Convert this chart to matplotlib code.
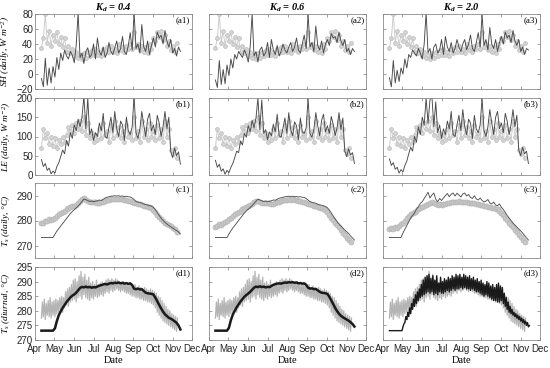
import numpy as np
import pandas as pd
import matplotlib
matplotlib.use('Agg')
import matplotlib.pyplot as plt
import matplotlib.dates as mdates

plt.rcParams['font.family'] = ['Liberation Sans', 'DejaVu Sans']
plt.rcParams['mathtext.fontset'] = 'custom'
plt.rcParams['mathtext.rm'] = 'Liberation Serif:italic'
plt.rcParams['mathtext.it'] = 'Liberation Serif:italic'
plt.rcParams['mathtext.bf'] = 'Liberation Serif:italic:bold'

# ---------------- data ----------------
model_dates = pd.date_range('2015-04-11', periods=73, freq='3D')
obs_dates = pd.date_range('2015-04-11', periods=71, freq='3D')

titles = ['0.4', '0.6', '2.0']

sh_obs = [35, 48, 80, 42, 58, 38, 52, 44, 56, 40,
          50, 36, 48, 30, 38, 28, 34, 24, 30, 22,
          26, 20, 28, 22, 30, 24, 32, 25, 34, 26,
          30, 24, 34, 28, 36, 30, 38, 30, 34, 28,
          40, 32, 36, 30, 38, 33, 40, 34, 56, 36,
          40, 32, 38, 30, 36, 28, 40, 34, 48, 44,
          56, 50, 58, 46, 52, 38, 44, 32, 38, 30,
          42]
sh_mod_04 = [-6, -17, 21, -15, 8, -12, 10, -4, 22, 6,
             28, 18, 32, 24, 20, 30, 25, 15, 38, 82,
             22, 28, 14, 30, 35, 22, 26, 40, 20, 48,
             30, 25, 36, 22, 28, 42, 30, 26, 35, 44,
             28, 34, 50, 30, 26, 38, 55, 32, 82, 34,
             40, 28, 66, 36, 30, 44, 26, 38, 48, 36,
             56, 48, 52, 40, 58, 44, 36, 46, 28, 34,
             24, 36, 30]
sh_mod_06 = [-8, -18, 18, -14, 6, -13, 12, -2, 20, 8,
             26, 20, 30, 26, 22, 32, 26, 16, 36, 80,
             24, 30, 16, 32, 36, 24, 28, 42, 22, 46,
             32, 26, 38, 24, 30, 40, 32, 28, 36, 42,
             30, 36, 48, 32, 28, 40, 52, 34, 80, 36,
             42, 30, 64, 38, 32, 44, 28, 40, 46, 38,
             54, 48, 50, 42, 56, 44, 38, 46, 30, 34,
             26, 34, 30]
sh_mod_20 = [-5, -17, 18, -12, 5, -10, 8, 0, 20, 8,
             26, 22, 32, 28, 24, 34, 28, 20, 40, 82,
             28, 34, 20, 36, 40, 28, 32, 46, 26, 50,
             36, 30, 42, 28, 34, 46, 36, 30, 40, 46,
             32, 40, 52, 34, 30, 42, 55, 36, 80, 38,
             46, 32, 62, 40, 34, 46, 30, 42, 50, 40,
             56, 48, 52, 42, 58, 44, 38, 46, 30, 36,
             26, 34, 32]

le_obs = [70, 120, 95, 110, 80, 100, 75, 95, 70, 90,
          80, 100, 85, 105, 125, 115, 130, 110, 135, 120,
          140, 115, 150, 105, 135, 95, 110, 85, 105, 90,
          120, 95, 135, 105, 115, 85, 130, 95, 140, 105,
          125, 95, 115, 85, 130, 100, 110, 90, 150, 95,
          115, 85, 140, 100, 120, 90, 135, 100, 115, 90,
          130, 95, 120, 85, 140, 100, 120, 65, 55, 70,
          45]
le_mod_04 = [40, 22, 30, 12, 18, 3, 10, 5, 22, 32,
             48, 65, 55, 90, 75, 110, 95, 130, 115, 145,
             125, 150, 205, 120, 200, 105, 120, 90, 110, 100,
             135, 115, 160, 100, 95, 125, 150, 110, 165, 120,
             100, 140, 130, 90, 150, 115, 105, 125, 205, 110,
             95, 120, 165, 130, 100, 145, 160, 115, 130, 105,
             155, 135, 100, 125, 165, 120, 150, 60, 45, 70,
             50, 60, 28]
le_mod_06 = [38, 20, 28, 10, 16, 2, 12, 6, 20, 30,
             45, 62, 58, 88, 78, 108, 98, 128, 112, 142,
             122, 148, 200, 118, 195, 108, 118, 92, 112, 102,
             132, 112, 158, 102, 98, 122, 148, 108, 162, 118,
             102, 138, 128, 92, 148, 112, 108, 122, 200, 108,
             98, 118, 162, 128, 102, 142, 158, 112, 128, 108,
             152, 132, 102, 122, 162, 118, 148, 62, 48, 68,
             52, 58, 30]
le_mod_20 = [42, 25, 32, 15, 20, 5, 14, 8, 25, 36,
             55, 72, 62, 100, 85, 125, 105, 150, 130, 200,
             135, 195, 205, 125, 190, 110, 130, 95, 120, 105,
             140, 120, 165, 105, 100, 130, 155, 115, 170, 125,
             105, 145, 135, 95, 155, 120, 110, 130, 200, 115,
             100, 125, 170, 135, 105, 150, 165, 120, 135, 110,
             160, 140, 105, 130, 170, 125, 155, 65, 50, 72,
             55, 62, 30]

ts_obs_04 = [279.0, 279.2, 279.8, 280.0, 280.6, 280.3, 280.8, 281.0, 281.8, 282.5,
             283.0, 283.3, 284.0, 284.5, 285.0, 285.3, 285.8, 286.0, 286.4, 287.0,
             287.8, 288.7, 289.2, 288.4, 287.8, 287.4, 287.6, 287.3, 287.5, 287.2,
             287.0, 287.3, 287.6, 287.9, 288.2, 288.4, 288.6, 288.7, 288.8, 288.6,
             288.8, 288.7, 288.5, 288.4, 288.3, 288.0, 287.8, 287.5, 287.2, 287.0,
             286.8, 286.6, 286.3, 286.0, 285.8, 285.6, 285.4, 285.0, 284.3, 283.3,
             282.4, 281.5, 280.6, 279.8, 279.2, 278.8, 278.2, 277.7, 277.2, 276.6,
             275.6]
ts_obs_06 = [277.5, 278.0, 278.5, 278.2, 279.0, 279.5, 280.0, 280.5, 281.2, 282.0,
             282.5, 283.0, 283.5, 284.0, 284.5, 285.0, 285.5, 286.0, 286.3, 286.8,
             287.3, 287.8, 288.0, 287.5, 287.2, 287.0, 287.2, 286.9, 287.0, 286.8,
             286.7, 287.0, 287.3, 287.6, 287.9, 288.1, 288.3, 288.4, 288.5, 288.4,
             288.5, 288.3, 288.2, 288.0, 287.8, 287.6, 287.3, 287.0, 286.8, 286.5,
             286.3, 286.0, 285.8, 285.5, 285.2, 285.0, 284.7, 284.2, 283.3, 282.3,
             281.2, 280.2, 279.2, 278.2, 277.3, 276.3, 275.2, 274.2, 273.2, 272.3,
             271.3]
ts_obs_20 = [276.5, 277.0, 276.8, 277.5, 277.2, 278.0, 278.5, 279.2, 280.0, 281.0,
             281.8, 282.5, 283.0, 283.5, 284.0, 284.5, 285.0, 285.5, 285.8, 286.3,
             286.8, 287.2, 287.5, 287.0, 286.6, 286.4, 286.6, 286.4, 286.6, 286.8,
             287.0, 287.2, 287.4, 287.5, 287.6, 287.5, 287.7, 287.6, 287.5, 287.3,
             287.4, 287.2, 287.1, 287.0, 286.9, 286.8, 286.6, 286.4, 286.2, 286.0,
             285.8, 285.6, 285.4, 285.2, 285.0, 284.8, 284.5, 284.0, 283.2, 282.2,
             281.2, 280.2, 279.2, 278.3, 277.4, 276.4, 275.4, 274.4, 273.4, 272.4,
             271.4]
ts_mod_04 = [273.2, 273.2, 273.2, 273.2, 273.2, 273.2, 273.2, 274.5, 275.8, 276.8,
             277.8, 278.8, 279.8, 280.8, 281.8, 282.8, 283.6, 284.3, 285.0, 285.8,
             286.6, 287.6, 288.6, 288.3, 288.0, 287.6, 287.8, 287.5, 287.7, 287.9,
             288.2, 288.0, 288.5, 289.0, 289.3, 289.5, 289.7, 289.8, 289.9, 289.8,
             289.9, 289.7, 289.8, 289.6, 289.7, 289.5, 289.4, 289.0, 288.4, 287.6,
             287.4, 287.2, 287.0, 286.6, 286.4, 286.2, 286.0, 285.7, 285.2, 284.3,
             283.2, 282.0, 280.9, 280.0, 279.2, 278.6, 278.0, 277.5, 277.0, 276.5,
             276.0, 275.4, 274.6]
ts_mod_06 = [273.2, 273.2, 273.2, 273.2, 273.2, 273.2, 273.2, 274.6, 275.9, 277.0,
             278.0, 279.0, 280.0, 281.0, 282.0, 283.0, 283.8, 284.5, 285.2, 286.0,
             286.8, 287.7, 288.5, 288.2, 287.9, 287.6, 287.8, 287.5, 287.7, 287.9,
             288.2, 288.1, 288.5, 288.9, 289.1, 289.3, 289.5, 289.6, 289.7, 289.6,
             289.7, 289.5, 289.6, 289.4, 289.5, 289.3, 289.2, 288.8, 288.2, 287.5,
             287.3, 287.1, 286.9, 286.5, 286.3, 286.1, 285.9, 285.6, 285.1, 284.2,
             283.0, 281.8, 280.6, 279.6, 278.6, 277.8, 277.0, 276.2, 275.5, 274.8,
             273.8, 273.0, 272.2]
ts_mod_20 = [273.2, 273.2, 273.2, 273.2, 273.2, 273.2, 273.2, 275.0, 276.5, 278.0,
             279.5, 281.0, 282.0, 283.0, 284.5, 285.5, 286.8, 287.5, 288.8, 290.0,
             291.3, 289.0, 290.2, 291.0, 288.5, 287.5, 288.8, 288.0, 289.0, 290.0,
             290.8, 289.5, 290.5, 291.0, 289.8, 290.9, 290.2, 289.4, 290.6, 291.0,
             289.8, 290.4, 289.2, 288.8, 289.9, 288.6, 288.2, 289.0, 288.0, 287.4,
             287.8, 288.4, 287.0, 286.6, 287.4, 286.2, 285.9, 286.6, 285.3, 284.4,
             283.2, 282.0, 281.0, 280.0, 279.0, 278.2, 277.4, 276.6, 275.8, 275.0,
             274.0, 273.0, 272.2]

# diurnal: daily low / high envelope of half-hourly values
tsd_obs_lo = [277.5, 278.0, 277.0, 278.5, 278.0, 277.5, 278.5, 278.0, 279.0, 279.5,
              280.0, 279.5, 281.0, 282.0, 281.5, 283.0, 283.5, 284.0, 283.0, 284.5,
              285.0, 284.0, 285.5, 284.5, 284.0, 283.5, 284.5, 284.0, 285.0, 284.5,
              285.0, 285.5, 285.0, 286.0, 286.5, 286.0, 287.0, 286.5, 287.0, 287.5,
              287.0, 286.5, 287.0, 286.5, 286.0, 286.0, 285.5, 285.0, 285.0, 284.5,
              284.5, 284.0, 284.0, 283.5, 283.5, 283.0, 283.0, 282.5, 282.0, 281.0,
              279.5, 278.5, 277.5, 276.5, 276.0, 275.5, 275.0, 274.5, 274.0, 273.5,
              273.0]
tsd_obs_hi = [283.0, 284.0, 282.5, 283.5, 284.5, 283.0, 283.5, 284.0, 283.5, 284.5,
              285.0, 284.5, 286.5, 287.5, 288.0, 289.0, 290.5, 291.0, 290.0, 292.0,
              293.5, 291.5, 292.5, 290.5, 291.5, 289.5, 290.0, 289.0, 290.5, 289.0,
              289.5, 290.0, 289.5, 290.5, 291.0, 290.5, 291.0, 290.5, 291.0, 290.5,
              290.0, 289.5, 290.0, 289.5, 289.0, 289.5, 289.0, 288.5, 289.0, 288.0,
              288.5, 288.0, 287.5, 288.0, 287.5, 287.0, 287.5, 287.0, 286.5, 286.0,
              285.0, 284.5, 283.5, 282.5, 281.5, 280.5, 280.0, 279.0, 278.5, 278.0,
              277.5]
tsd_mod_04 = [273.2, 273.2, 273.2, 273.2, 273.2, 273.2, 273.2, 274.0, 276.5, 278.5,
              279.8, 281.0, 282.0, 283.0, 283.8, 284.6, 285.2, 285.6, 286.2, 287.0,
              287.8, 288.2, 288.0, 288.3, 288.0, 288.2, 287.9, 288.1, 288.0, 288.3,
              288.6, 288.8, 289.0, 289.2, 289.0, 289.3, 289.5, 289.4, 289.6, 289.5,
              289.7, 289.4, 289.6, 289.3, 289.5, 289.2, 289.4, 288.8, 287.6, 287.4,
              287.6, 287.3, 287.4, 286.8, 286.2, 286.0, 285.9, 285.8, 285.6, 284.5,
              283.3, 282.0, 280.8, 279.7, 278.8, 278.2, 277.6, 277.3, 276.9, 276.4,
              275.9, 275.0, 273.6]
tsd_mod_06 = [273.2, 273.2, 273.2, 273.2, 273.2, 273.2, 273.2, 274.2, 276.8, 278.7,
              280.0, 281.2, 282.2, 283.2, 284.0, 284.8, 285.4, 285.9, 286.5, 287.2,
              287.9, 288.3, 288.1, 288.4, 288.1, 288.3, 288.0, 288.2, 288.1, 288.5,
              288.9, 289.1, 289.3, 289.4, 289.3, 289.5, 289.7, 289.6, 289.8, 289.7,
              289.8, 289.6, 289.7, 289.4, 289.5, 289.3, 289.4, 288.9, 287.9, 287.6,
              287.7, 287.4, 287.5, 287.0, 286.5, 286.2, 286.1, 286.0, 285.8, 284.8,
              283.6, 282.3, 281.0, 279.9, 279.0, 278.3, 277.8, 277.4, 277.0, 276.6,
              276.1, 275.5, 274.6]
tsd_mod_20_lo = [273.2, 273.2, 273.2, 273.2, 273.2, 273.2, 273.2, 274.5, 276.0, 277.0,
                 278.0, 279.0, 280.5, 281.5, 282.5, 283.5, 284.5, 285.0, 285.5, 286.0,
                 286.5, 286.0, 286.5, 285.5, 286.0, 285.5, 286.5, 286.0, 286.0, 286.5,
                 287.0, 286.5, 287.0, 287.5, 287.0, 287.5, 287.5, 288.0, 287.5, 288.0,
                 287.5, 287.5, 287.0, 287.5, 287.0, 286.5, 286.5, 286.0, 285.5, 285.0,
                 285.5, 285.0, 284.5, 284.0, 283.5, 283.5, 283.0, 283.0, 283.5, 282.5,
                 281.5, 280.5, 279.5, 279.0, 278.5, 278.0, 277.5, 277.0, 276.5, 276.0,
                 275.5, 275.0, 274.5]
tsd_mod_20_hi = [273.2, 273.2, 273.2, 273.2, 273.2, 273.2, 273.2, 275.5, 278.0, 279.5,
                 281.0, 282.5, 284.0, 285.5, 286.5, 287.5, 289.0, 290.5, 291.5, 292.0,
                 292.5, 291.0, 292.0, 290.5, 292.0, 289.5, 291.5, 290.0, 291.0, 290.5,
                 291.5, 291.0, 292.0, 291.5, 292.5, 292.0, 292.5, 291.5, 292.5, 292.0,
                 291.5, 292.0, 291.0, 291.5, 290.5, 291.0, 290.0, 290.5, 289.5, 289.0,
                 290.0, 289.5, 288.5, 289.0, 288.0, 289.0, 289.5, 288.5, 288.0, 286.0,
                 284.5, 283.0, 281.5, 280.5, 279.5, 279.0, 278.5, 278.0, 277.5, 277.0,
                 276.5, 276.0, 275.0]

sh_mod = [sh_mod_04, sh_mod_06, sh_mod_20]
le_mod = [le_mod_04, le_mod_06, le_mod_20]
ts_obs = [ts_obs_04, ts_obs_06, ts_obs_20]
ts_mod = [ts_mod_04, ts_mod_06, ts_mod_20]

# ---------------- layout ----------------
W, H = 550, 368
fig = plt.figure(figsize=(5.5, 3.68), dpi=100)
col_left = [35, 209, 383]
col_w = 157
rows_px = [(14, 89), (98, 175), (183, 258), (267, 340)]

ylims = [(-20, 80), (0, 200), (265, 295), (270, 295)]
yticks = [[-20, 0, 20, 40, 60, 80], [0, 50, 100, 150, 200], [270, 280, 290],
          [270, 275, 280, 285, 290, 295]]
ylabels = ['SH (daily, W m$^{-2}$)', 'LE (daily, W m$^{-2}$)',
           '$T_s$ (daily, °C)', '$T_s$ (diurnal, °C)']
letters = ['a', 'b', 'c', 'd']

serif = 'Liberation Serif'
OBS_C = '#cccccc'
MOD_C = '#484848'


def zigzag(dates, lo, hi):
    t = np.empty(2 * len(dates), dtype='datetime64[ns]')
    v = np.empty(2 * len(dates))
    t[0::2] = dates.values
    t[1::2] = (dates + pd.Timedelta(hours=36)).values
    v[0::2] = lo
    v[1::2] = hi
    return t, v


for c in range(3):
    for r in range(4):
        top, bot = rows_px[r]
        ax = fig.add_axes([col_left[c] / W, 1 - bot / H, col_w / W, (bot - top) / H])
        if r == 0:
            ax.plot(obs_dates, sh_obs, '-o', color=OBS_C, lw=0.7, ms=2.8,
                    mfc='#d4d4d4', mec='#bdbdbd', mew=0.5, zorder=1)
            ax.plot(model_dates, sh_mod[c], color=MOD_C, lw=0.65, zorder=2)
        elif r == 1:
            ax.plot(obs_dates, le_obs, '-o', color=OBS_C, lw=0.7, ms=2.8,
                    mfc='#d4d4d4', mec='#bdbdbd', mew=0.5, zorder=1)
            ax.plot(model_dates, le_mod[c], color=MOD_C, lw=0.65, zorder=2)
        elif r == 2:
            ax.plot(obs_dates, ts_obs[c], '-o', color=OBS_C, lw=0.8, ms=3.6,
                    mfc='#c8c8c8', mec='#b4b4b4', mew=0.5, zorder=1)
            ax.plot(model_dates, ts_mod[c], color='#505050', lw=0.65, zorder=2)
        else:
            t, v = zigzag(obs_dates, tsd_obs_lo, tsd_obs_hi)
            ax.plot(t, v, color='#b4b4b4', lw=0.9, zorder=1)
            if c == 0:
                ax.plot(model_dates, tsd_mod_04, color='#1a1a1a', lw=1.8, zorder=2)
            elif c == 1:
                ax.plot(model_dates, tsd_mod_06, color='#1a1a1a', lw=1.8, zorder=2)
            else:
                t2, v2 = zigzag(model_dates, tsd_mod_20_lo, tsd_mod_20_hi)
                ax.plot(t2, v2, color='#1a1a1a', lw=1.0, zorder=2)
        ax.set_xlim(pd.Timestamp('2015-04-01'), pd.Timestamp('2015-12-01'))
        ax.set_ylim(*ylims[r])
        ax.set_yticks(yticks[r])
        ax.xaxis.set_major_locator(mdates.MonthLocator())
        ax.xaxis.set_major_formatter(mdates.DateFormatter('%b'))
        ax.tick_params(direction='in', length=2.2, width=0.5, top=True, right=True,
                       labelsize=7, colors='#7a7a7a', labelcolor='#262626', pad=1.5)
        for s in ax.spines.values():
            s.set_color('#8a8a8a')
            s.set_linewidth(0.6)
        if r < 3:
            ax.set_xticklabels([])
        else:
            ax.set_xlabel('Date', family=serif, fontsize=7.5, labelpad=1)
            ax.tick_params(axis='x', pad=3)
        if c > 0:
            ax.set_yticklabels([])
        else:
            ax.set_ylabel(ylabels[r], family=serif, style='italic', fontsize=6.8,
                          labelpad=3)
        ax.text(0.99, 0.975, f'({letters[r]}{c + 1})', transform=ax.transAxes,
                ha='right', va='top', family=serif, fontsize=6.5)
        if r == 0:
            ax.set_title(r'$\mathbf{K_d}$ = ' + titles[c], family=serif,
                         style='italic', weight='bold', fontsize=7.5, pad=2)

fig.savefig('out.png', dpi=100)
